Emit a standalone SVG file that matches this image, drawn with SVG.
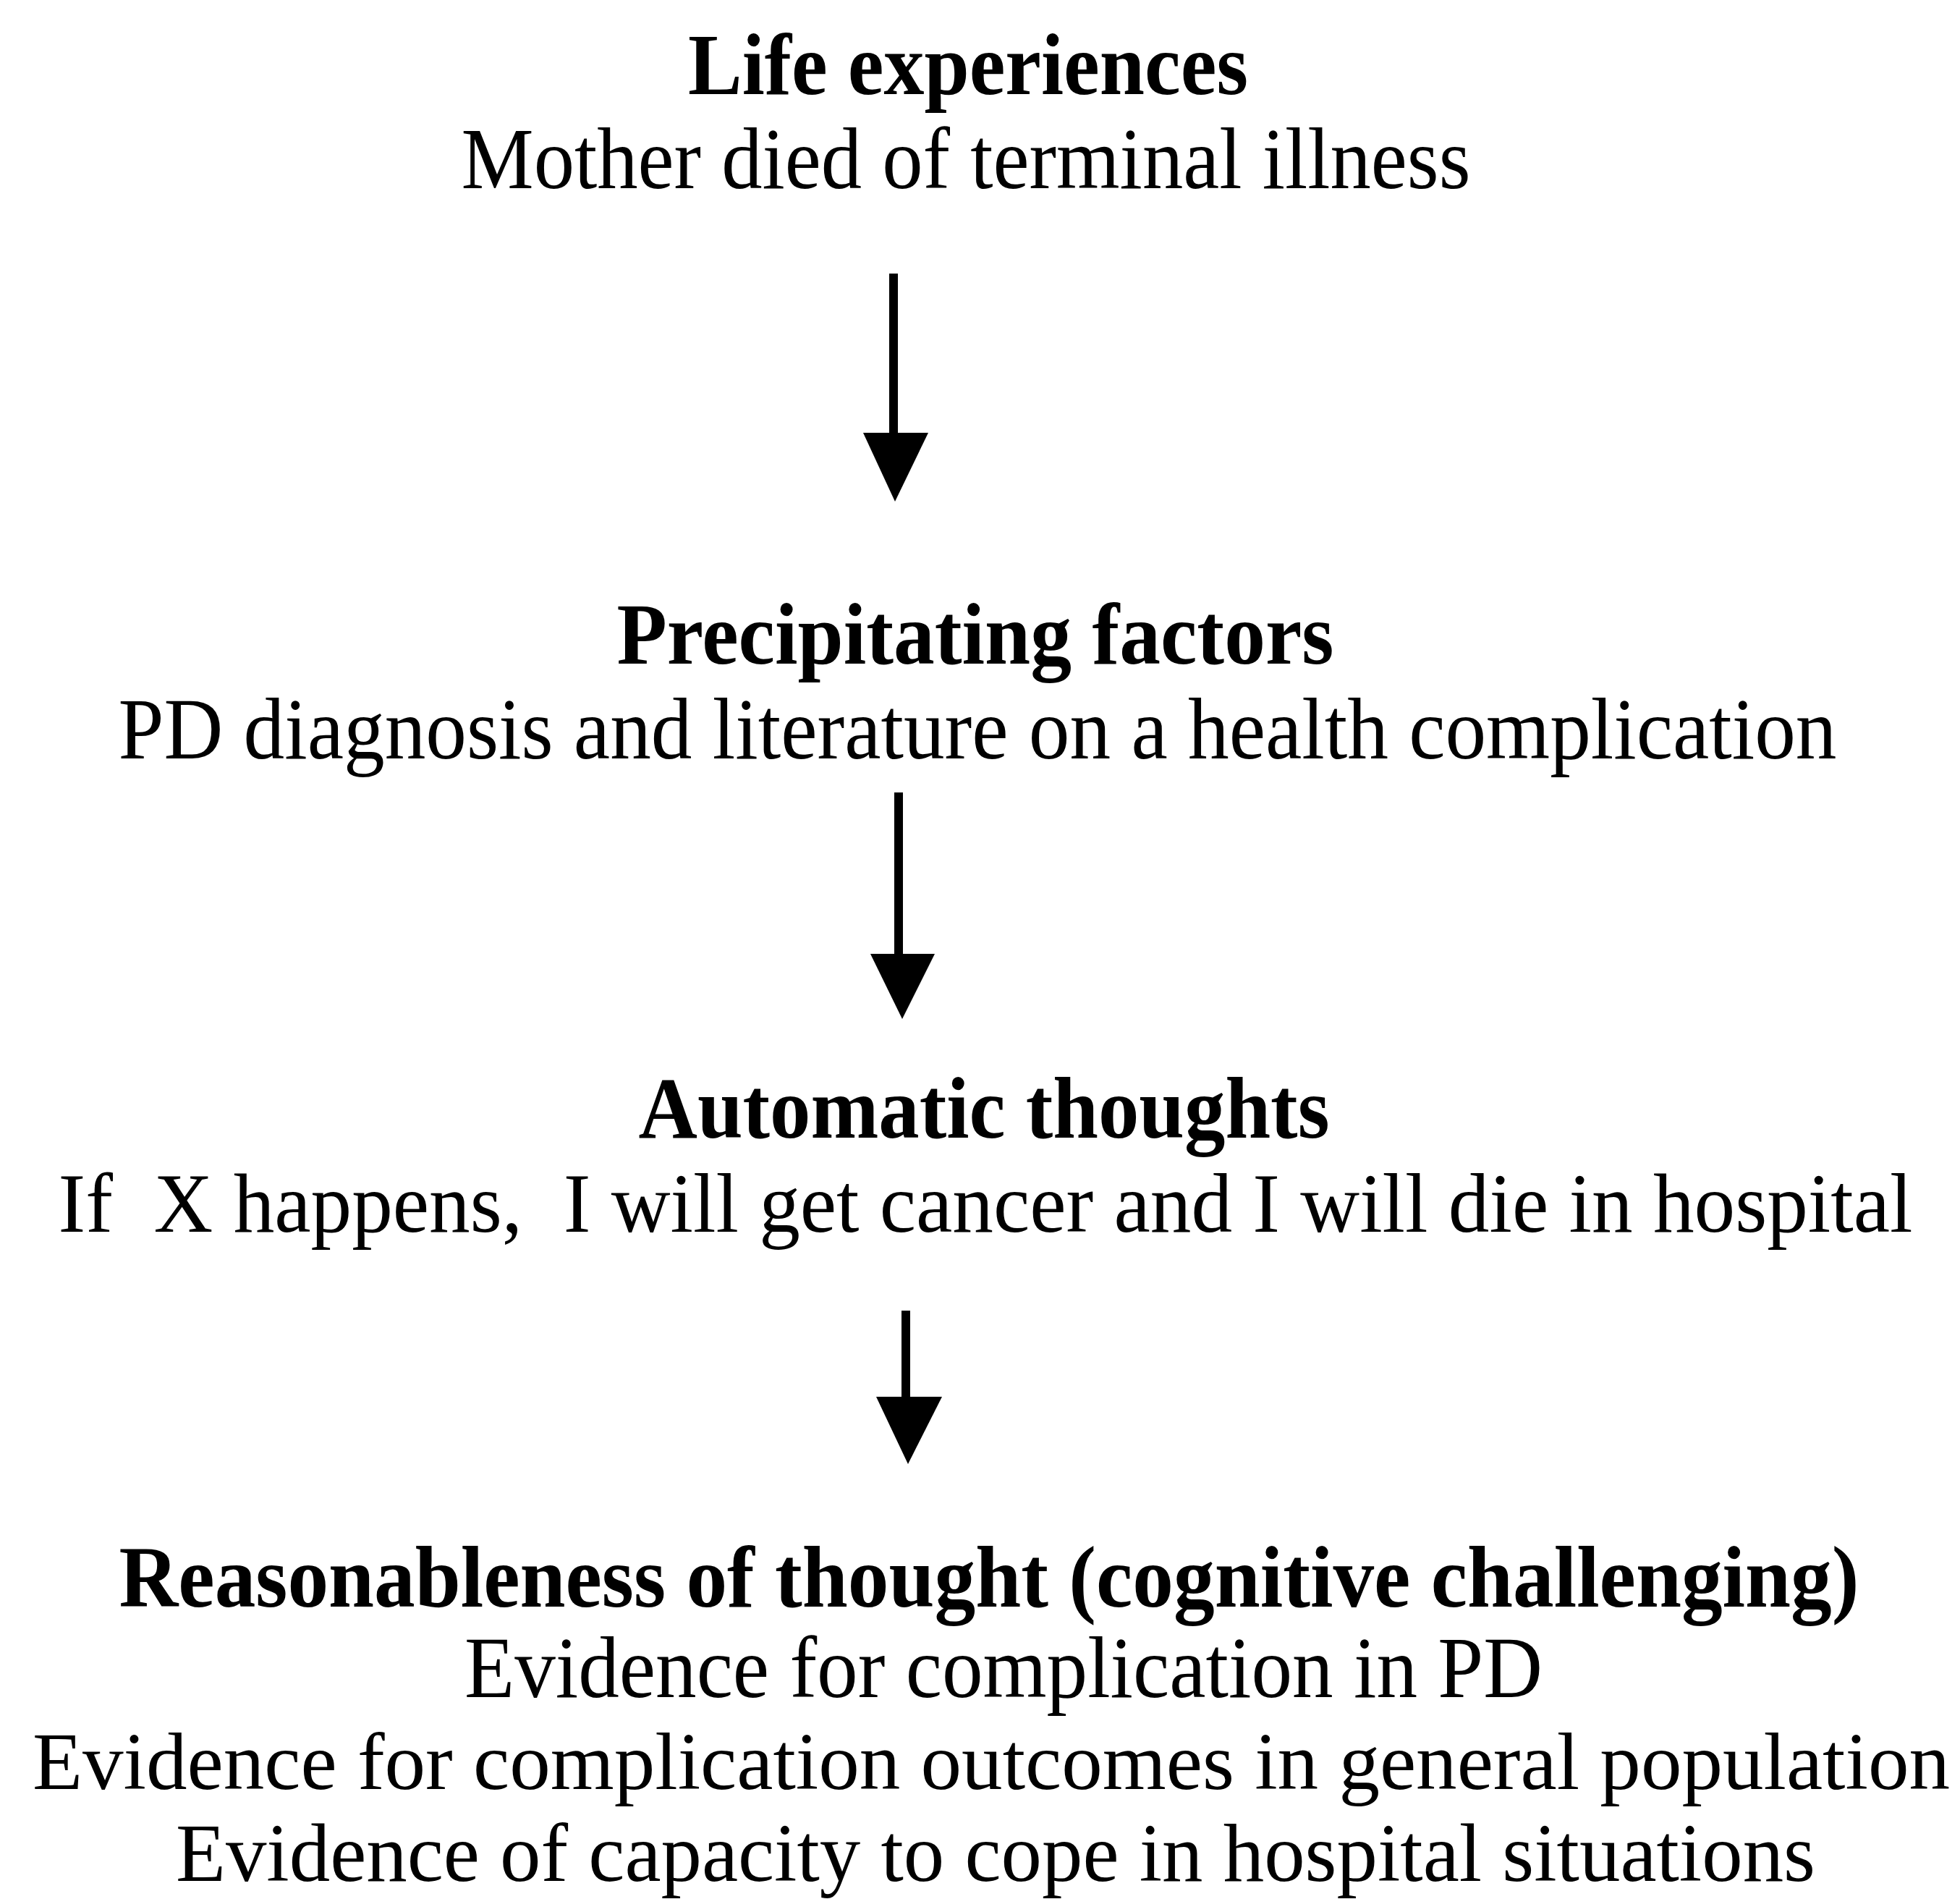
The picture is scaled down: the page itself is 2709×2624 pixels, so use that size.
<svg xmlns="http://www.w3.org/2000/svg" width="2709" height="2624" viewBox="0 0 2709 2624">
<style>
.t{font-family:"Liberation Serif","Times New Roman",serif;font-size:120px;fill:#000;text-anchor:middle}
.b{font-weight:bold}
.ln{stroke:#000;stroke-width:12;fill:none}
.hd{fill:#000}
</style>
<rect width="2709" height="2624" fill="#fff"/>
<g id="life-experiences">
<text class="t b" x="1338" y="130" textLength="774" lengthAdjust="spacingAndGlyphs">Life experiences</text>
<text class="t" x="1335" y="260" textLength="1395" lengthAdjust="spacingAndGlyphs">Mother died of terminal illness</text>
</g>
<g id="precipitating-factors">
<text class="t b" x="1348" y="917" textLength="991" lengthAdjust="spacingAndGlyphs">Precipitating factors</text>
<text class="t" x="1351" y="1048" textLength="2375" lengthAdjust="spacingAndGlyphs">PD diagnosis and literature on a health complication</text>
</g>
<g id="automatic-thoughts">
<text class="t b" x="1360" y="1572" textLength="955" lengthAdjust="spacingAndGlyphs">Automatic thoughts</text>
<text class="t" x="1362" y="1702" style="font-size:116px" textLength="2563" lengthAdjust="spacingAndGlyphs" xml:space="preserve">If  X happens,  I will get cancer and I will die in hospital</text>
</g>
<g id="reasonableness">
<text class="t b" x="1367" y="2220" textLength="2405" lengthAdjust="spacingAndGlyphs">Reasonableness of thought (cognitive challenging)</text>
<text class="t" x="1387" y="2345" textLength="1490" lengthAdjust="spacingAndGlyphs">Evidence for complication in PD</text>
<text class="t" x="1370" y="2472" style="font-size:113px" textLength="2650" lengthAdjust="spacingAndGlyphs">Evidence for complication outcomes in general population</text>
<text class="t" x="1376" y="2599" style="font-size:114px" textLength="2266" lengthAdjust="spacingAndGlyphs">Evidence of capacity to cope in hospital situations</text>
</g>
<g id="connectors">
<line class="ln" x1="1235" y1="378" x2="1235" y2="600"/>
<polygon class="hd" points="1193,598 1283,598 1237,693"/>
<line class="ln" x1="1242" y1="1095" x2="1242" y2="1320"/>
<polygon class="hd" points="1203,1318 1292,1318 1247,1408"/>
<line class="ln" x1="1252" y1="1811" x2="1252" y2="1932"/>
<polygon class="hd" points="1211,1930 1302,1930 1255,2023"/>
</g>
</svg>
